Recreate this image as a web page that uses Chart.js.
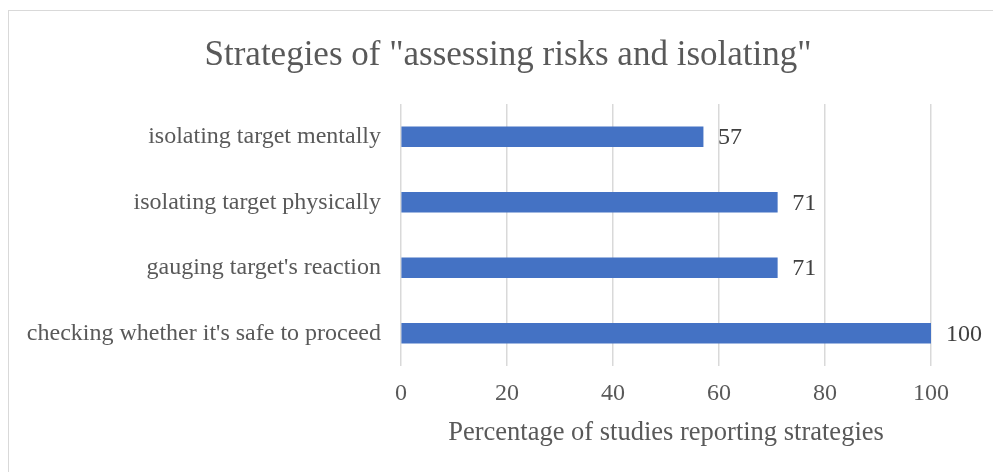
<!DOCTYPE html>
<html>
<head>
<meta charset="utf-8">
<script src="https://cdn.jsdelivr.net/npm/chart.js@4.4.0/dist/chart.umd.min.js"></script>
<style>
  html, body { margin: 0; padding: 0; background: #fff; overflow: hidden; }
  #marco { position: absolute; left: 8px; top: 10px; width: 1000px; height: 480px; border: 1.5px solid #d9d9d9; }
  #caja { position: absolute; left: 0; top: 0; width: 993px; height: 472px; }
</style>
</head>
<body>
<div id="marco"></div>
<div id="caja"><canvas id="estrategias" width="993" height="472"></canvas></div>
<script>
// estrategias de mayor a menor posición en el eje (de arriba hacia abajo)
const estrategias = [
    'isolating target mentally',
    'isolating target physically',
    "gauging target's reaction",
    "checking whether it's safe to proceed"
];
const porcentajes = [57, 71, 71, 100];
const marcasX = [0, 20, 40, 60, 80, 100];

const fuente = 'Liberation Serif, Times New Roman, serif';

// etiquetas con el valor al final de cada barra
const etiquetasValor = {
    id: 'etiquetasValor',
    afterDatasetsDraw(chart) {
        const ctx = chart.ctx;
        const meta = chart.getDatasetMeta(0);
        ctx.save();
        ctx.font = '24px ' + fuente;
        ctx.fillStyle = '#404040';
        ctx.textAlign = 'left';
        ctx.textBaseline = 'middle';
        meta.data.forEach((barra, i) => {
            ctx.fillText(porcentajes[i], barra.x + 15, barra.y + 1);
        });
        ctx.restore();
    }
};

// el eje de categorías ocupa también el margen izquierdo para que la etiqueta larga no se recorte
const ejeAncho = {
    id: 'ejeAncho',
    afterLayout(chart) {
        chart.scales.y.left = 20;
    }
};

document.addEventListener('DOMContentLoaded', function () {
    const ctx = document.getElementById('estrategias').getContext('2d');
    new Chart(ctx, {
        type: 'bar',
        data: {
            labels: estrategias,
            datasets: [{
                label: 'Percentage of studies reporting strategies',
                data: porcentajes,
                backgroundColor: '#4472C4',
                borderWidth: 0,
                barThickness: 20
            }]
        },
        options: {
            indexAxis: 'y',
            responsive: false,
            animation: false,
            layout: {
                padding: { left: 85, right: 62, top: 0, bottom: 0 }
            },
            plugins: {
                legend: { display: false },
                tooltip: { enabled: false },
                title: {
                    display: true,
                    text: 'Strategies of "assessing risks and isolating"',
                    color: '#595959',
                    font: { family: fuente, size: 35, weight: 'normal' },
                    padding: { top: 35, bottom: 27 }
                }
            },
            scales: {
                x: {
                    min: 0,
                    max: 100,
                    afterBuildTicks(scale) {
                        scale.ticks = marcasX.map(v => ({ value: v }));
                    },
                    afterFit(scale) {
                        scale.height = 106;
                    },
                    grid: {
                        color: '#d9d9d9',
                        lineWidth: 1.5,
                        drawTicks: false
                    },
                    border: { display: false },
                    ticks: {
                        color: '#595959',
                        padding: 13,
                        font: { family: fuente, size: 24 }
                    },
                    title: {
                        display: true,
                        text: 'Percentage of studies reporting strategies',
                        color: '#595959',
                        font: { family: fuente, size: 26.5 },
                        padding: { top: 10, bottom: 23 }
                    }
                },
                y: {
                    afterFit(scale) {
                        scale.width = 401 - 85;
                    },
                    grid: { display: false, drawTicks: false },
                    border: { display: false },
                    ticks: {
                        color: '#595959',
                        padding: 20,
                        font: { family: fuente, size: 24 }
                    }
                }
            }
        },
        plugins: [etiquetasValor, ejeAncho]
    });
});
</script>
</body>
</html>
